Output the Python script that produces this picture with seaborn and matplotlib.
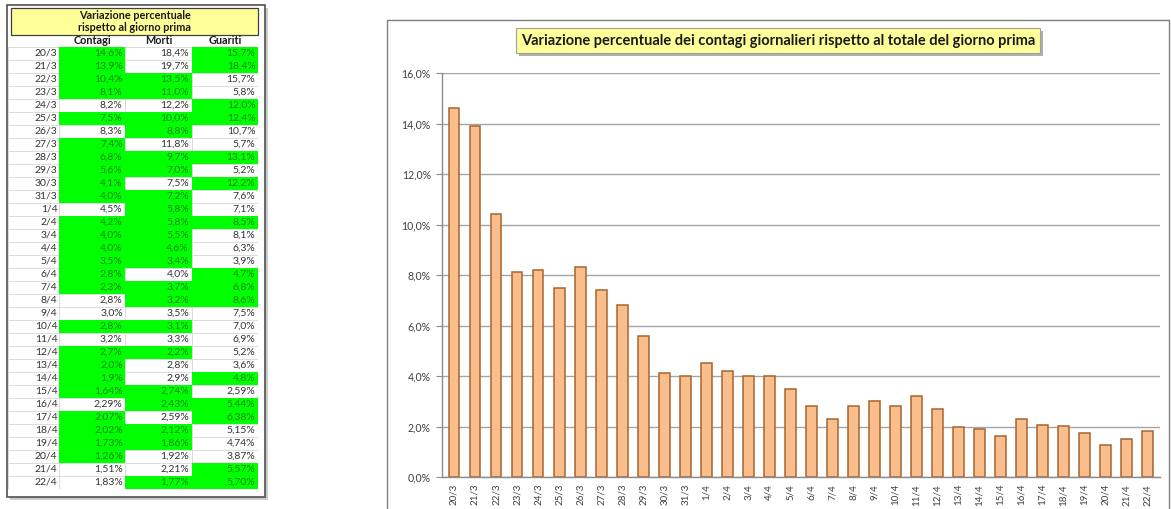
"""Tabella e grafico della variazione percentuale giornaliera (contagi, morti, guariti)."""

import numpy as np
import pandas as pd
import matplotlib.pyplot as plt
import seaborn as sns
from matplotlib.colors import ListedColormap
from matplotlib.patches import Rectangle
from matplotlib.ticker import FuncFormatter


GIORNI = [
    "20/3", "21/3", "22/3", "23/3", "24/3", "25/3", "26/3", "27/3", "28/3",
    "29/3", "30/3", "31/3", "1/4", "2/4", "3/4", "4/4", "5/4", "6/4", "7/4",
    "8/4", "9/4", "10/4", "11/4", "12/4", "13/4", "14/4", "15/4", "16/4",
    "17/4", "18/4", "19/4", "20/4", "21/4", "22/4",
]
CONTAGI = [
    14.6, 13.9, 10.4, 8.1, 8.2, 7.5, 8.3, 7.4, 6.8, 5.6, 4.1, 4.0, 4.5, 4.2,
    4.0, 4.0, 3.5, 2.8, 2.3, 2.8, 3.0, 2.8, 3.2, 2.7, 2.0, 1.9, 1.64, 2.29,
    2.07, 2.02, 1.73, 1.26, 1.51, 1.83,
]
MORTI = [
    18.4, 19.7, 13.5, 11.0, 12.2, 10.0, 8.8, 11.8, 9.7, 7.0, 7.5, 7.2, 5.8, 5.8,
    5.5, 4.6, 3.4, 4.0, 3.7, 3.2, 3.5, 3.1, 3.3, 2.2, 2.8, 2.9, 2.74, 2.43,
    2.59, 2.12, 1.86, 1.92, 2.21, 1.77,
]
GUARITI = [
    15.7, 18.4, 15.7, 5.8, 12.0, 12.4, 10.7, 5.7, 13.1, 5.2, 12.2, 7.6, 7.1, 8.5,
    8.1, 6.3, 3.9, 4.7, 6.8, 8.6, 7.5, 7.0, 6.9, 5.2, 3.6, 4.8, 2.59, 5.44,
    6.38, 5.15, 4.74, 3.87, 5.57, 5.70,
]
# 1 = cella evidenziata in verde nella tabella
VERDE_CONTAGI = [1, 1, 1, 1, 0, 1, 0, 1, 1, 1, 1, 1, 0, 1, 1, 1, 1, 1, 1, 0, 0,
                 1, 0, 1, 1, 1, 1, 0, 1, 1, 1, 1, 0, 0]
VERDE_MORTI = [0, 0, 1, 1, 0, 1, 1, 0, 1, 1, 0, 1, 1, 1, 1, 1, 1, 0, 1, 1, 0,
               1, 0, 1, 0, 0, 1, 1, 0, 1, 1, 0, 0, 1]
VERDE_GUARITI = [1, 1, 0, 0, 1, 1, 0, 0, 1, 0, 1, 0, 0, 1, 0, 0, 0, 1, 1, 1, 0,
                 0, 0, 0, 0, 1, 0, 1, 1, 0, 0, 0, 1, 1]
COLONNE = ["Contagi", "Morti", "Guariti"]
PRIMA_RIGA_DUE_DECIMALI = 26  # dal 15/4 i valori hanno due decimali

W, H = 1171, 509
VERDE = "#00FF00"
GIALLO = "#FFFF99"
ARANCIO = "#F9BE8C"


def box(x0, y0, x1, y1):
    """Rettangolo in pixel (origine in alto a sinistra) -> coordinate figura."""
    return [x0 / W, 1 - y1 / H, (x1 - x0) / W, (y1 - y0) / H]


def fmt_perc(value, decimals):
    return f"{value:.{decimals}f}%".replace(".", ",")


def add_rect(fig, x0, y0, x1, y1, **kwargs):
    x, y, w, h = box(x0, y0, x1, y1)
    fig.add_artist(Rectangle((x, y), w, h, transform=fig.transFigure, **kwargs))


sns.set_theme(style="white")
plt.rcParams["font.family"] = ["Lato", "DejaVu Sans"]

fig = plt.figure(figsize=(W / 100, H / 100), dpi=100)

# ---------------------------------------------------------------- tabella
add_rect(fig, 10, 8, 268, 500, facecolor="#9a9a9a", edgecolor="none",
         alpha=0.5, zorder=-3)
add_rect(fig, 7, 5, 265, 497, facecolor="white", edgecolor="#505050", lw=1.2,
         zorder=-2)

add_rect(fig, 11, 8, 258, 35, facecolor=GIALLO, edgecolor="#404040", lw=0.9,
         zorder=-1)
fig.text(135 / W, 1 - 21.5 / H, "Variazione percentuale\nrispetto al giorno prima",
         ha="center", va="center", fontsize=7.8, fontweight="bold",
         color="#1a1a1a", linespacing=1.05)

giorni_ax = fig.add_axes(box(8, 46.5, 59, 488.5))
valori_ax = fig.add_axes(box(59, 46.5, 258, 488.5))

verde = np.column_stack([VERDE_CONTAGI, VERDE_MORTI, VERDE_GUARITI])
sns.heatmap(verde, cmap=ListedColormap(["white", VERDE]), vmin=0, vmax=1,
            cbar=False, xticklabels=False, yticklabels=False,
            linewidths=0.6, linecolor="#dcdcdc", ax=valori_ax)
mesh = valori_ax.collections[0]
mesh.set_edgecolors([VERDE if v else "#dcdcdc" for v in verde.ravel()])

sns.heatmap(np.zeros((len(GIORNI), 1)), cmap=ListedColormap(["white"]),
            cbar=False, xticklabels=False, yticklabels=False,
            linewidths=0.6, linecolor="#dcdcdc", ax=giorni_ax)

serie = [CONTAGI, MORTI, GUARITI]
for i, giorno in enumerate(GIORNI):
    dec = 2 if i >= PRIMA_RIGA_DUE_DECIMALI else 1
    giorni_ax.text(0.97, i + 0.5, giorno, ha="right", va="center",
                   fontsize=7.5, color="#333333")
    for j, valori in enumerate(serie):
        colore = "#0c850c" if verde[i, j] else "#333333"
        valori_ax.text(j + 0.96, i + 0.5, fmt_perc(valori[i], dec),
                       ha="right", va="center", fontsize=7.5, color=colore)

for j, nome in enumerate(COLONNE):
    valori_ax.text(j + 0.5, -0.45, nome, ha="center", va="center",
                   fontsize=7.8, fontweight="bold", color="#1a1a1a",
                   clip_on=False)

# ---------------------------------------------------------------- grafico
add_rect(fig, 387, 20, 1169, 530, facecolor="white", edgecolor="#808080",
         lw=1.0, zorder=-2)

ax = fig.add_axes(box(442, 73, 1160, 477))
df = pd.DataFrame({"giorno": GIORNI, "contagi": CONTAGI})
sns.barplot(data=df, x="giorno", y="contagi", color=ARANCIO, saturation=1,
            edgecolor="#a8652f", linewidth=1.1, width=0.52, ax=ax)

ax.set_xlim(-0.57, 33.6)
ax.set_ylim(0, 16)
ax.set_yticks(np.arange(0, 17, 2))
ax.yaxis.set_major_formatter(FuncFormatter(lambda v, _: fmt_perc(v, 1)))
ax.grid(axis="y", color="#a6a6a6", lw=1.0)
ax.set_axisbelow(True)
ax.set_xlabel("")
ax.set_ylabel("")
for lato in ["top", "right"]:
    ax.spines[lato].set_visible(False)
for lato in ["left", "bottom"]:
    ax.spines[lato].set_color("#8c8c8c")
    ax.spines[lato].set_linewidth(1.0)
ax.tick_params(axis="y", length=4, width=0.8, color="#8c8c8c", pad=4,
               labelsize=7.6, labelcolor="#404040", left=True)
ax.tick_params(axis="x", length=0, pad=5, labelsize=7, labelcolor="#404040",
               rotation=90)

add_rect(fig, 519, 31, 1043, 56, facecolor="#7a7a7a", edgecolor="none",
         alpha=0.6, zorder=3)
add_rect(fig, 516, 28, 1040, 53, facecolor=GIALLO, edgecolor="#a0a0a0",
         lw=0.8, zorder=4)
fig.text(778 / W, 1 - 40.5 / H,
         "Variazione percentuale dei contagi giornalieri rispetto al totale del giorno prima",
         ha="center", va="center", fontsize=10.5, fontweight="bold",
         color="#1a1a1a", zorder=5)

fig.savefig("out.png", dpi=100)
